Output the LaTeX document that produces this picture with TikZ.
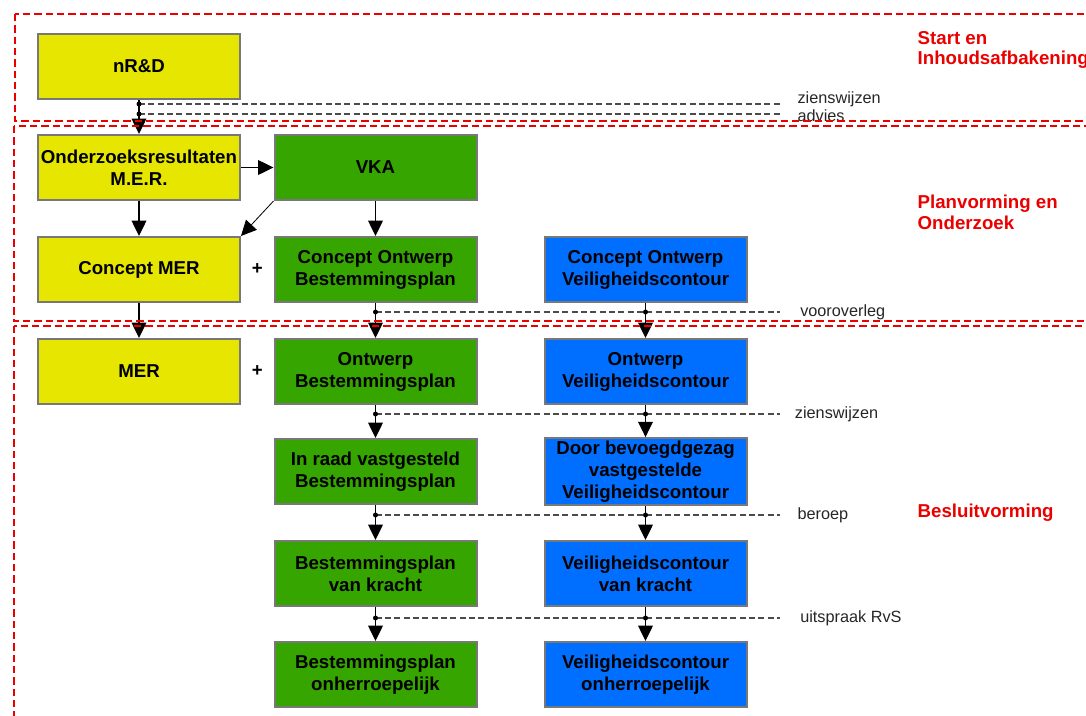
\documentclass[tikz,border=0pt]{standalone}
\usepackage{fontspec}
\setmainfont{Liberation Sans}
\usepackage{tikz}
\usetikzlibrary{arrows.meta, positioning, calc}
\definecolor{meryellow}{RGB}{230,230,0}
\definecolor{bpgreen}{RGB}{54,165,0}
\definecolor{vcblue}{RGB}{0,110,255}
\definecolor{boxgray}{RGB}{120,120,120}
\definecolor{linkgray}{RGB}{75,75,75}
\definecolor{phasered}{RGB}{235,0,0}

\begin{document}
\begin{tikzpicture}[x=0.75pt, y=-0.75pt,
  block/.style={rectangle, draw=boxgray, line width=1.5pt,
                minimum width=151.5pt, minimum height=48.75pt, align=center,
                inner sep=2pt, font=\fontsize{14}{16.5}\selectfont\bfseries},
  merbox/.style={block, fill=meryellow},
  bpbox/.style={block, fill=bpgreen},
  vcbox/.style={block, fill=vcblue},
  arr/.style={-{Triangle[length=11.5pt, width=11pt]}, line width=1pt, color=black},
  link/.style={draw=linkgray, dash pattern=on 4.5pt off 2.5pt, line width=0.8pt},
  phase/.style={draw=phasered, dash pattern=on 5.5pt off 3pt, line width=1.8pt},
  phasename/.style={anchor=west, align=left, text=phasered,
                    font=\fontsize{14}{15.5}\selectfont\bfseries},
  remark/.style={anchor=west, inner sep=0pt, text=black!85,
                 font=\fontsize{12.2}{14}\selectfont},
  plus/.style={inner sep=0pt, font=\fontsize{14}{16}\selectfont\bfseries}
]
  \clip (0,0) rectangle (1086,715);

  % Start
  \node[merbox] (nrd)   at (139, 66.5)   {nR\&D};

  % Planvorming
  \node[merbox] (omer)  at (139, 167.5)  {Onderzoeksresultaten\\M.E.R.};
  \node[bpbox]  (vka)   at (375.5, 167.5) {VKA};
  \node[merbox] (cmer)  at (139, 269.5)  {Concept MER};
  \node[bpbox]  (cobp)  at (375.5, 269.5) {Concept Ontwerp\\Bestemmingsplan};
  \node[vcbox]  (covc)  at (645.5, 269.5) {Concept Ontwerp\\Veiligheidscontour};

  % Besluitvorming
  \node[merbox] (mer)   at (139, 371.5)  {MER};
  \node[bpbox]  (obp)   at (375.5, 371.5) {Ontwerp\\Bestemmingsplan};
  \node[vcbox]  (ovc)   at (645.5, 371.5) {Ontwerp\\Veiligheidscontour};
  \node[bpbox]  (vbp)   at (375.5, 471.5) {In raad vastgesteld\\Bestemmingsplan};
  \node[vcbox]  (vvc)   at (645.5, 471.5) {Door bevoegdgezag\\vastgestelde\\Veiligheidscontour};
  \node[bpbox]  (kbp)   at (375.5, 573.5) {Bestemmingsplan\\van kracht};
  \node[vcbox]  (kvc)   at (645.5, 573.5) {Veiligheidscontour\\van kracht};
  \node[bpbox]  (hbp)   at (375.5, 674.5) {Bestemmingsplan\\onherroepelijk};
  \node[vcbox]  (hvc)   at (645.5, 674.5) {Veiligheidscontour\\onherroepelijk};

  % plus signs
  \node[plus] (plus1) at ($(cmer.east)!0.5!(cobp.west)$) {+};
  \node[plus] (plus2) at ($(mer.east)!0.5!(obp.west)$)   {+};

  % ── Procedure moments ──────────────────────────────────────────────
  \coordinate (zw0)  at (780, 104);
  \coordinate (adv0) at (780, 114);
  \coordinate (voor) at (780, 312);
  \coordinate (zw1)  at (780, 414);
  \coordinate (ber)  at (780, 515);
  \coordinate (uit)  at (780, 618);

  \draw[link] (nrd.south |- zw0)  -- (zw0);
  \draw[link] (nrd.south |- adv0) -- (adv0);
  \draw[link] (cobp.south |- voor) -- (voor);
  \draw[link] (obp.south |- zw1)  -- (zw1);
  \draw[link] (vbp.south |- ber)  -- (ber);
  \draw[link] (kbp.south |- uit)  -- (uit);

  \node[remark, yshift=3.5pt] (zw0txt)  at ([xshift=13] zw0)  {zienswijzen};
  \node[remark, yshift=-1pt]  (adv0txt) at ([xshift=13] adv0) {advies};
  \node[remark] (voortxt) at ([xshift=15] voor) {vooroverleg};
  \node[remark] (zw1txt)  at ([xshift=11] zw1)  {zienswijzen};
  \node[remark] (bertxt)  at ([xshift=13] ber)  {beroep};
  \node[remark] (uittxt)  at ([xshift=15] uit)  {uitspraak RvS};

  % ── Arrows ────────────────────────────────────────────────────────────
  \draw[arr] (nrd)  -- (omer);
  \draw[arr] (omer) -- (vka);
  \draw[arr] (omer) -- (cmer);
  \draw[arr, line width=0.6pt] (vka.south west) -- (cmer.north east);
  \draw[arr] (vka)  -- (cobp);
  \draw[arr] (cmer) -- (mer);
  \draw[arr] (cobp) -- (obp);
  \draw[arr] (covc) -- (ovc);
  \draw[arr] (obp)  -- (vbp);
  \draw[arr] (ovc)  -- (vvc);
  \draw[arr] (vbp)  -- (kbp);
  \draw[arr] (vvc)  -- (kvc);
  \draw[arr] (kbp)  -- (hbp);
  \draw[arr] (kvc)  -- (hvc);

  % dots on the arrows
  \foreach \n/\c in {nrd/zw0, nrd/adv0, cobp/voor, covc/voor, obp/zw1, ovc/zw1,
                     vbp/ber, vvc/ber, kbp/uit, kvc/uit}
    \fill (\n.south |- \c) circle[radius=2.5];

  % ── Phases ────────────────────────────────────────────────────────────
  \draw[phase] (15, 14) rectangle (1100, 121);
  \draw[phase] (14, 126) rectangle (1100, 321);
  \draw[phase] (14, 326) rectangle (1100, 1100);

  \node[phasename] (start) at (913, 50)  {Start en\\Inhoudsafbakening};
  \node[phasename] (plan)  at (913, 212) {Planvorming en\\Onderzoek};
  \node[phasename] (besl)  at (913, 513) {Besluitvorming};
\end{tikzpicture}
\end{document}
